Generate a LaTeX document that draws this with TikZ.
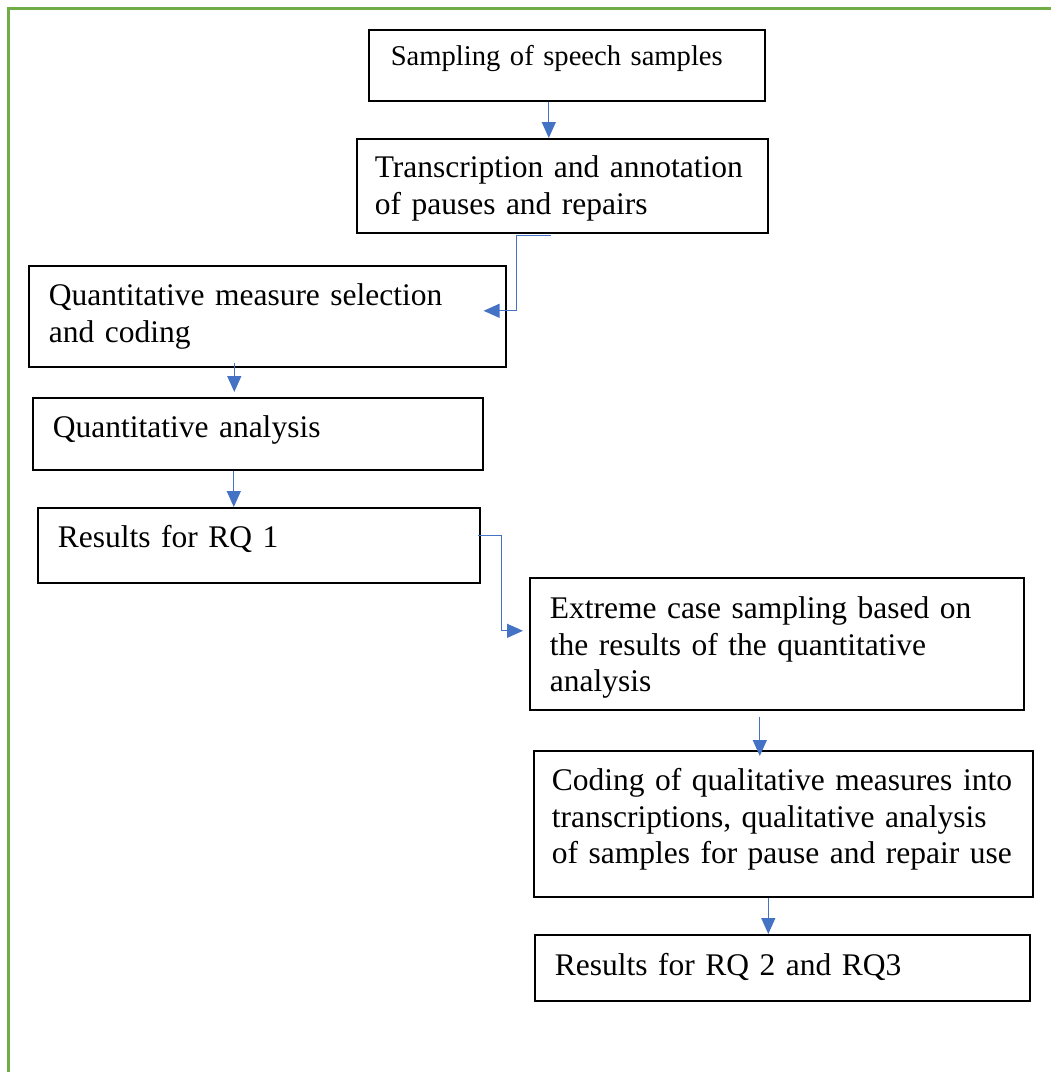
\documentclass[tikz,border=0pt]{standalone}
\usepackage{fontspec}
\setmainfont{Liberation Serif}
\usetikzlibrary{arrows.meta}
\definecolor{arrowblue}{HTML}{4472C4}
\definecolor{framegreen}{HTML}{70AD47}
\begin{document}
\begin{tikzpicture}[x=1pt,y=-1pt]
	\tikzstyle{stepbox}=[draw=black,line width=1.6pt,anchor=north west,align=left,inner xsep=20pt,inner ysep=0pt,font=\fontsize{31.5}{36.5}\selectfont]
	\tikzstyle{flow}=[draw=arrowblue,line width=1.3pt,-{Triangle[length=16pt,width=14pt]}]
	\useasboundingbox (0,0) rectangle (1051,1072);
	\draw[framegreen,line width=3pt] (8,1072) -- (8,8) -- (1051,8);
	\node[stepbox,font=\fontsize{28.6}{33}\selectfont,inner xsep=22pt,text width=352pt,text height=36pt,text depth=35pt](b1) at (368,29) {Sampling of speech samples};
	\node[stepbox,inner xsep=18pt,text width=375pt,text height=39pt,text depth=55pt](b2) at (356,138) {Transcription and annotation\\of pauses and repairs};
	\node[stepbox,text width=437pt,text height=40pt,text depth=61pt](b3) at (28,265) {Quantitative measure selection\\and coding};
	\node[stepbox,text width=410pt,text height=40pt,text depth=32pt](b4) at (32,397) {Quantitative analysis};
	\node[stepbox,text width=402pt,text height=40pt,text depth=35pt](b5) at (37,507) {Results for RQ 1};
	\node[stepbox,text width=454pt,text height=41pt,text depth=91pt](b6) at (529,577) {Extreme case sampling based on\\the results of the quantitative\\analysis};
	\node[stepbox,inner xsep=18pt,text width=463pt,text height=40pt,text depth=106pt](b7) at (533,750) {Coding of qualitative measures into\\transcriptions, qualitative analysis\\of samples for pause and repair use};
	\node[stepbox,text width=455pt,text height=41pt,text depth=25pt](b8) at (534,934) {Results for RQ 2 and RQ3};
	\draw[flow] ([xshift=-18pt]b1.south) -- ([xshift=-18pt]b1.south |- b2.north);
	\draw[flow] ([xshift=-11pt,yshift=-2pt]b2.south) -- ++(-35pt,0) |- ([xshift=-23pt,yshift=5.5pt]b3.east);
	\draw[flow] ([xshift=-33pt,yshift=5pt]b3.south) -- ([xshift=-33pt,yshift=5pt]b3.south |- b4.north);
	\draw[flow] ([xshift=-24pt]b4.south) -- ([xshift=-24pt]b4.south |- b5.north);
	\draw[flow] ([xshift=-3pt,yshift=9.5pt]b5.east) -- ++(24pt,0) |- ([xshift=-6pt,yshift=13pt]b6.west);
	\draw[flow] ([xshift=-17pt,yshift=-6pt]b6.south) -- ([xshift=-17pt,yshift=-6pt]b6.south |- b7.north);
	\draw[flow] ([xshift=-15pt]b7.south) -- ([xshift=-15pt]b7.south |- b8.north);
\end{tikzpicture}
\end{document}
